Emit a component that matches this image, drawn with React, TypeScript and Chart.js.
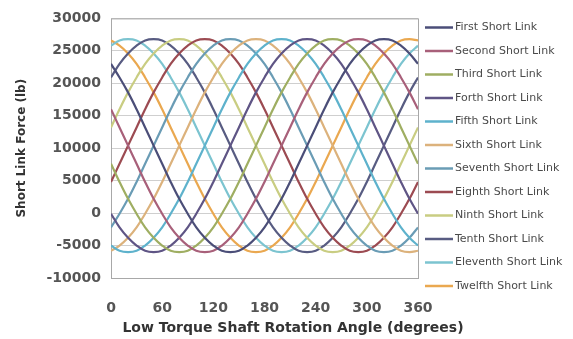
import React, { useEffect, useRef } from "react";
import { Chart, registerables } from "chart.js";

Chart.register(...registerables);

const ANGLES = [0, 10, 20, 30, 40, 50, 60, 70, 80, 90, 100, 110, 120, 130, 140, 150, 160, 170, 180, 190, 200, 210, 220, 230, 240, 250, 260, 270, 280, 290, 300, 310, 320, 330, 340, 350, 360];

const SERIES_NAMES = [
  "First Short Link", "Second Short Link", "Third Short Link", "Forth Short Link",
  "Fifth Short Link", "Sixth Short Link", "Seventh Short Link", "Eighth Short Link",
  "Ninth Short Link", "Tenth Short Link", "Eleventh Short Link", "Twelfth Short Link",
];

const SERIES_COLORS = [
  "#4b4e78", "#a8607a", "#9fae62", "#5f5585", "#5eb2cc", "#dcb27c",
  "#6a9cb5", "#9c4b52", "#c9cd82", "#585c82", "#7cc4d0", "#eaa850",
];

const FIRST = [23000, 20900, 18600, 16000, 13200, 10400, 7600, 4800, 2200, -100, -2200, -3800, -5000, -5800, -6000, -5800, -5000, -3800, -2200, -100, 2200, 4800, 7600, 10400, 13200, 16000, 18600, 20900, 23000, 24600, 25800, 26600, 26800, 26600, 25800, 24600, 23000];
const SECOND = [16000, 13200, 10400, 7600, 4800, 2200, -100, -2200, -3800, -5000, -5800, -6000, -5800, -5000, -3800, -2200, -100, 2200, 4800, 7600, 10400, 13200, 16000, 18600, 20900, 23000, 24600, 25800, 26600, 26800, 26600, 25800, 24600, 23000, 20900, 18600, 16000];
const THIRD = [7600, 4800, 2200, -100, -2200, -3800, -5000, -5800, -6000, -5800, -5000, -3800, -2200, -100, 2200, 4800, 7600, 10400, 13200, 16000, 18600, 20900, 23000, 24600, 25800, 26600, 26800, 26600, 25800, 24600, 23000, 20900, 18600, 16000, 13200, 10400, 7600];
const FORTH = [-100, -2200, -3800, -5000, -5800, -6000, -5800, -5000, -3800, -2200, -100, 2200, 4800, 7600, 10400, 13200, 16000, 18600, 20900, 23000, 24600, 25800, 26600, 26800, 26600, 25800, 24600, 23000, 20900, 18600, 16000, 13200, 10400, 7600, 4800, 2200, -100];
const FIFTH = [-5000, -5800, -6000, -5800, -5000, -3800, -2200, -100, 2200, 4800, 7600, 10400, 13200, 16000, 18600, 20900, 23000, 24600, 25800, 26600, 26800, 26600, 25800, 24600, 23000, 20900, 18600, 16000, 13200, 10400, 7600, 4800, 2200, -100, -2200, -3800, -5000];
const SIXTH = [-5800, -5000, -3800, -2200, -100, 2200, 4800, 7600, 10400, 13200, 16000, 18600, 20900, 23000, 24600, 25800, 26600, 26800, 26600, 25800, 24600, 23000, 20900, 18600, 16000, 13200, 10400, 7600, 4800, 2200, -100, -2200, -3800, -5000, -5800, -6000, -5800];
const SEVENTH = [-2200, -100, 2200, 4800, 7600, 10400, 13200, 16000, 18600, 20900, 23000, 24600, 25800, 26600, 26800, 26600, 25800, 24600, 23000, 20900, 18600, 16000, 13200, 10400, 7600, 4800, 2200, -100, -2200, -3800, -5000, -5800, -6000, -5800, -5000, -3800, -2200];
const EIGHTH = [4800, 7600, 10400, 13200, 16000, 18600, 20900, 23000, 24600, 25800, 26600, 26800, 26600, 25800, 24600, 23000, 20900, 18600, 16000, 13200, 10400, 7600, 4800, 2200, -100, -2200, -3800, -5000, -5800, -6000, -5800, -5000, -3800, -2200, -100, 2200, 4800];
const NINTH = [13200, 16000, 18600, 20900, 23000, 24600, 25800, 26600, 26800, 26600, 25800, 24600, 23000, 20900, 18600, 16000, 13200, 10400, 7600, 4800, 2200, -100, -2200, -3800, -5000, -5800, -6000, -5800, -5000, -3800, -2200, -100, 2200, 4800, 7600, 10400, 13200];
const TENTH = [20900, 23000, 24600, 25800, 26600, 26800, 26600, 25800, 24600, 23000, 20900, 18600, 16000, 13200, 10400, 7600, 4800, 2200, -100, -2200, -3800, -5000, -5800, -6000, -5800, -5000, -3800, -2200, -100, 2200, 4800, 7600, 10400, 13200, 16000, 18600, 20900];
const ELEVENTH = [25800, 26600, 26800, 26600, 25800, 24600, 23000, 20900, 18600, 16000, 13200, 10400, 7600, 4800, 2200, -100, -2200, -3800, -5000, -5800, -6000, -5800, -5000, -3800, -2200, -100, 2200, 4800, 7600, 10400, 13200, 16000, 18600, 20900, 23000, 24600, 25800];
const TWELFTH = [26600, 25800, 24600, 23000, 20900, 18600, 16000, 13200, 10400, 7600, 4800, 2200, -100, -2200, -3800, -5000, -5800, -6000, -5800, -5000, -3800, -2200, -100, 2200, 4800, 7600, 10400, 13200, 16000, 18600, 20900, 23000, 24600, 25800, 26600, 26800, 26600];

const SERIES_VALUES = [FIRST, SECOND, THIRD, FORTH, FIFTH, SIXTH, SEVENTH, EIGHTH, NINTH, TENTH, ELEVENTH, TWELFTH];

const X_TITLE = "Low Torque Shaft Rotation Angle (degrees)";
const Y_TITLE = "Short Link Force (lb)";

const decorPlugin = {
  id: "decor",
  beforeDatasetsDraw(chart: any) {
    const { ctx, chartArea } = chart;
    ctx.save();
    ctx.strokeStyle = "#a8a8a8";
    ctx.lineWidth = 1;
    ctx.strokeRect(chartArea.left + 0.5, chartArea.top + 0.5, chartArea.right - chartArea.left, chartArea.bottom - chartArea.top);
    ctx.restore();
  },
  afterDraw(chart: any) {
    const { ctx, chartArea } = chart;
    ctx.save();
    ctx.fillStyle = "#333333";
    ctx.font = "bold 14px 'DejaVu Sans'";
    ctx.textAlign = "center";
    ctx.textBaseline = "middle";
    ctx.fillText(X_TITLE, 293, 328);
    ctx.save();
    ctx.translate(22, (chartArea.top + chartArea.bottom) / 2);
    ctx.rotate(-Math.PI / 2);
    ctx.font = "bold 12px 'DejaVu Sans'";
    ctx.fillText(Y_TITLE, 0, 0);
    ctx.restore();
    ctx.textAlign = "left";
    ctx.font = "11px 'DejaVu Sans'";
    chart.data.datasets.forEach((ds: any, i: number) => {
      const y = 27.5 + i * 23.5;
      ctx.strokeStyle = ds.borderColor;
      ctx.lineWidth = 2.5;
      ctx.beginPath();
      ctx.moveTo(425, y);
      ctx.lineTo(453, y);
      ctx.stroke();
      ctx.fillStyle = "#4a4a4a";
      ctx.fillText(ds.label, 455, y);
    });
    ctx.restore();
  },
};

export default function App() {
  const ref = useRef<HTMLCanvasElement>(null);
  useEffect(() => {
    if (!ref.current) return;
    const datasets = SERIES_VALUES.map((vals, i) => ({
      label: SERIES_NAMES[i],
      data: vals.map((v, j) => ({ x: ANGLES[j], y: v })),
      borderColor: SERIES_COLORS[i],
      backgroundColor: SERIES_COLORS[i],
      borderWidth: 2.2,
      pointRadius: 0,
      tension: 0.4,
      fill: false,
    }));
    const chart = new Chart(ref.current, {
      type: "line",
      data: { datasets },
      options: {
        animation: false,
        responsive: false,
        devicePixelRatio: 1,
        layout: { padding: { left: 0, right: 155, top: 16, bottom: 0 } },
        plugins: { legend: { display: false }, tooltip: { enabled: false }, title: { display: false } },
        scales: {
          x: {
            type: "linear",
            min: 0,
            max: 360,
            grid: { display: false },
            border: { display: false },
            ticks: {
              stepSize: 60,
              padding: 14,
              color: "#555555",
              font: { family: "'DejaVu Sans'", size: 14, weight: "bold" },
              maxRotation: 0,
              callback: (v: any) => String(v),
            },
            afterFit: (scale: any) => { scale.height = 61; },
          },
          y: {
            min: -10000,
            max: 30000,
            grid: { color: "#cfcfcf", drawTicks: false },
            border: { display: false },
            ticks: {
              stepSize: 5000,
              padding: 10,
              color: "#555555",
              font: { family: "'DejaVu Sans'", size: 14, weight: "bold" },
              callback: (v: any) => String(v),
            },
            afterFit: (scale: any) => { scale.width = 111; },
          },
        },
      },
      plugins: [decorPlugin],
    } as any);
    return () => chart.destroy();
  }, []);
  return (
    <div style={{ position: "absolute", left: 0, top: 0, width: 573, height: 339, background: "#fff" }}>
      <canvas ref={ref} width={573} height={339} style={{ width: 573, height: 339, display: "block" }} />
    </div>
  );
}
